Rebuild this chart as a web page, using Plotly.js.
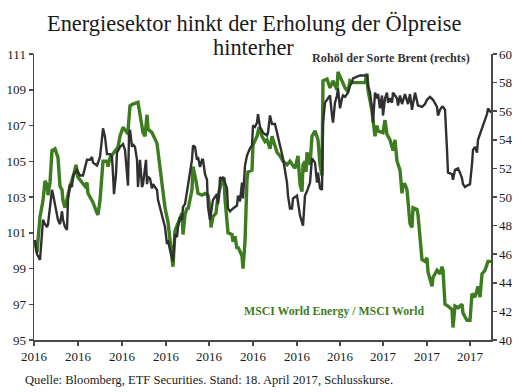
<!DOCTYPE html>
<html>
<head>
<meta charset="utf-8">
<script src="https://cdn.plot.ly/plotly-3.0.1.min.js"></script>
<style>html,body{margin:0;padding:0;background:#fff;}#chart{width:526px;height:392px;}</style>
</head>
<body>
<div id="chart"></div>
<script>
// Trading-day offsets since start of the period (approx.), and index values
const daysEnergy = [1,3,6,9,11,13,14,16,18,21,24,26,28,29,31,34,36,39,42,44,48,51,53,54,56,59,63,64,66,68,69,73,74,76,81,84,86,89,93,94,96,99,104,106,109,111,113,114,118,123,126,129,131,134,138,139,141,144,148,149,151,153,154,158,159,162,164,168,171,174,176,177,179,182,184,188,190,191,193,194,198,199,201,203,204,206,208,209,211,213,214,218,219,223,225,228,231,233,236,238,239,241,243,246,249,253,256,261,264,266,268,269,271,272,273,276,278,281,284,286,288,289,293,296,299,303,304,308,311,314,316,319,326,331,333,334,338,341,343,344,349,351,353,356,359,361,363,366,368,369,371,373,376,378,379,383,384,388,391,393,394,396,398,399,403,406,408,409,411,414,418,419,421,424,428,429,433,436,438,441,444,446,448,451,454,457];
const energyRatio = [100.5,99.9,101.9,102.8,103.9,103.7,103.1,103.8,105.6,105.7,105.2,103.6,103.4,102.8,102.4,103.2,103.6,104.1,104.8,104.1,103.8,103.6,103.8,103.2,103.0,102.7,102.1,102.0,102.8,104.3,105.0,105.0,104.7,105.2,105.6,105.8,106.4,106.9,106.6,106.7,108.1,108.2,108.3,107.5,106.6,106.4,107.6,106.8,106.6,106.0,104.5,103.2,102.4,101.6,99.6,99.1,101.1,101.5,102.1,100.9,102.0,102.4,102.3,103.4,104.7,103.9,103.2,103.1,103.2,103.1,102.4,101.3,101.9,102.1,103.1,103.9,104.1,102.9,101.6,101.0,100.9,100.5,100.8,100.1,100.2,99.9,99.7,99.0,100.5,104.0,104.4,104.5,105.9,106.4,106.9,106.4,106.1,106.2,105.7,106.4,106.2,105.8,105.5,105.3,105.0,104.8,105.0,104.6,105.3,103.7,103.3,104.8,105.0,104.4,105.5,104.8,106.4,106.7,106.2,104.8,104.2,109.5,109.6,109.1,109.5,109.0,110.0,109.5,109.1,108.9,109.5,109.4,109.4,109.4,109.9,109.0,107.8,106.4,107.0,106.7,106.6,107.3,106.5,106.2,105.6,106.2,105.0,104.5,103.2,103.7,103.7,103.4,101.5,101.3,102.4,102.3,102.0,99.5,99.4,99.6,98.8,98.3,98.0,98.5,98.9,98.7,99.1,98.9,97.0,96.9,96.7,95.7,96.9,96.8,97.0,96.5,96.1,96.1,97.6,97.4,98.0,97.4,98.7,98.9,99.4,99.4];

const daysBrent = [1,3,6,8,9,11,13,14,16,18,19,21,24,26,28,29,31,33,34,36,38,39,43,46,49,53,56,58,59,63,64,66,68,69,71,73,76,78,79,80,82,83,86,89,91,93,94,95,96,98,99,101,103,104,106,108,109,112,113,114,116,118,119,121,123,124,126,128,131,133,134,136,138,139,141,143,144,146,148,149,151,154,158,159,161,163,164,166,168,169,171,173,174,176,178,179,181,183,184,185,186,188,189,193,194,196,199,203,204,206,208,209,211,213,216,218,219,221,223,224,226,229,233,234,236,238,241,243,244,246,249,253,254,256,258,259,263,266,268,269,271,273,276,278,281,283,284,286,288,289,291,294,296,298,299,301,303,304,306,308,309,311,313,314,316,318,319,323,326,329,333,334,336,338,339,341,343,344,346,348,349,351,353,354,356,358,359,361,363,364,366,368,371,374,376,378,381,384,388,391,393,396,399,403,404,406,408,409,411,413,414,418,419,421,424,426,428,429,431,433,436,438,439,441,443,444,446,449,453,454,457];
const brentUSD = [47.0,46.0,45.6,47.4,48.4,48.1,47.9,48.1,49.5,50.5,50.2,49.5,48.4,48.1,49.0,48.4,47.9,47.7,49.8,50.9,50.7,51.5,51.9,51.5,51.5,52.6,52.6,52.8,52.4,52.2,52.4,52.8,54.1,54.8,54.2,53.0,53.0,52.8,51.6,50.2,51.6,53.1,53.5,53.7,53.3,51.4,50.8,54.3,54.7,53.5,53.7,53.5,52.6,50.7,52.6,50.7,50.9,52.6,50.9,51.4,51.3,50.6,50.9,50.7,50.5,49.8,49.3,48.8,47.9,46.7,47.0,46.3,45.6,45.5,47.4,47.2,47.9,48.6,48.4,49.3,49.5,50.9,52.6,53.6,53.5,52.6,52.8,52.1,52.6,52.6,51.6,51.2,49.3,48.4,49.3,49.8,50.0,50.2,49.5,50.0,51.4,51.2,51.4,50.6,49.2,49.0,49.2,49.4,50.1,49.7,51.0,49.9,52.2,52.9,53.4,53.6,55.0,54.9,55.2,55.8,54.9,54.5,54.3,54.5,55.7,55.1,55.1,54.5,54.3,53.6,52.7,51.0,50.1,49.2,49.2,49.9,50.1,48.7,48.3,48.0,50.1,50.4,51.0,52.7,52.4,51.0,51.7,50.6,50.5,55.2,56.6,56.9,57.1,55.7,55.2,56.6,57.1,57.6,56.2,56.9,57.1,57.0,57.2,57.3,57.8,58.0,58.3,58.4,58.5,58.5,58.5,57.8,57.3,56.2,55.2,57.3,56.9,57.2,56.2,57.1,55.7,56.9,57.3,56.6,56.9,56.6,57.3,57.1,56.9,56.4,57.1,56.5,57.2,56.5,57.2,56.1,57.3,56.4,56.3,56.5,56.8,57.0,56.8,56.3,55.7,56.1,56.3,56.3,56.1,53.3,51.7,51.6,51.2,51.9,52.0,51.7,51.3,50.9,50.7,50.8,50.9,52.3,53.3,53.5,53.1,54.0,54.4,55.1,55.8,56.2,55.9];

const tickDays = [0,44,88,132,175,219,263,306,349,393,436];
const tickLabels = ['2016','2016','2016','2016','2016','2016','2016','2016','2017','2017','2017'];

const SERIF = 'Liberation Serif, Times New Roman, serif';
const axisCommon = {
  showline: true, linecolor: '#4a4a4a', linewidth: 1.5,
  ticks: 'outside', ticklen: 4, tickwidth: 1.5, tickcolor: '#4a4a4a',
  showgrid: false, zeroline: false, fixedrange: true,
  tickfont: {family: SERIF, size: 13, color: '#1a1a1a'}
};

const traces = [
  {x: daysEnergy, y: energyRatio, type: 'scatter', mode: 'lines', yaxis: 'y',
   line: {color: '#3d7d1f', width: 3.4}, name: 'MSCI World Energy / MSCI World'},
  {x: daysBrent, y: brentUSD, type: 'scatter', mode: 'lines', yaxis: 'y2',
   line: {color: '#303030', width: 2.4}, name: 'Brent'}
];

const layout = {
  width: 526, height: 392,
  margin: {l: 34, r: 35, t: 54, b: 52, pad: 0},
  paper_bgcolor: '#ffffff', plot_bgcolor: '#ffffff',
  showlegend: false,
  font: {family: SERIF, color: '#1a1a1a'},
  xaxis: Object.assign({}, axisCommon, {range: [0, 457], tickmode: 'array', tickvals: tickDays, ticktext: tickLabels}),
  yaxis: Object.assign({}, axisCommon, {range: [95, 111], tickmode: 'linear', tick0: 95, dtick: 2}),
  yaxis2: Object.assign({}, axisCommon, {range: [40, 60], tickmode: 'linear', tick0: 40, dtick: 2, overlaying: 'y', side: 'right'}),
  annotations: [
    {text: 'Energiesektor hinkt der Erholung der Ölpreise', showarrow: false,
     xref: 'paper', yref: 'paper', x: 0.4814, y: 1.108, xanchor: 'center', yanchor: 'middle',
     font: {family: SERIF, size: 22.4, color: '#1a1a1a'}},
    {text: 'hinterher', showarrow: false,
     xref: 'paper', yref: 'paper', x: 0.4814, y: 1.0227, xanchor: 'center', yanchor: 'middle',
     font: {family: SERIF, size: 22.4, color: '#1a1a1a'}},
    {text: '<b>Rohöl der Sorte Brent (rechts)</b>', showarrow: false, xref: 'paper', yref: 'paper',
     x: 0.781, y: 0.985, xanchor: 'center', yanchor: 'middle',
     font: {family: SERIF, size: 12.2, color: '#333333'}},
    {text: '<b>MSCI World Energy / MSCI World</b>', showarrow: false, xref: 'paper', yref: 'paper',
     x: 0.658, y: 0.101, xanchor: 'center', yanchor: 'middle',
     font: {family: SERIF, size: 11.8, color: '#3d7d1f'}},
    {text: 'Quelle: Bloomberg, ETF Securities. Stand: 18. April 2017, Schlusskurse.', showarrow: false,
     xref: 'paper', yref: 'paper', x: -0.0241, y: -0.1399, xanchor: 'left', yanchor: 'middle',
     font: {family: SERIF, size: 12.6, color: '#1a1a1a'}}
  ]
};

Plotly.newPlot('chart', traces, layout, {displayModeBar: false, staticPlot: true});
</script>
</body>
</html>
